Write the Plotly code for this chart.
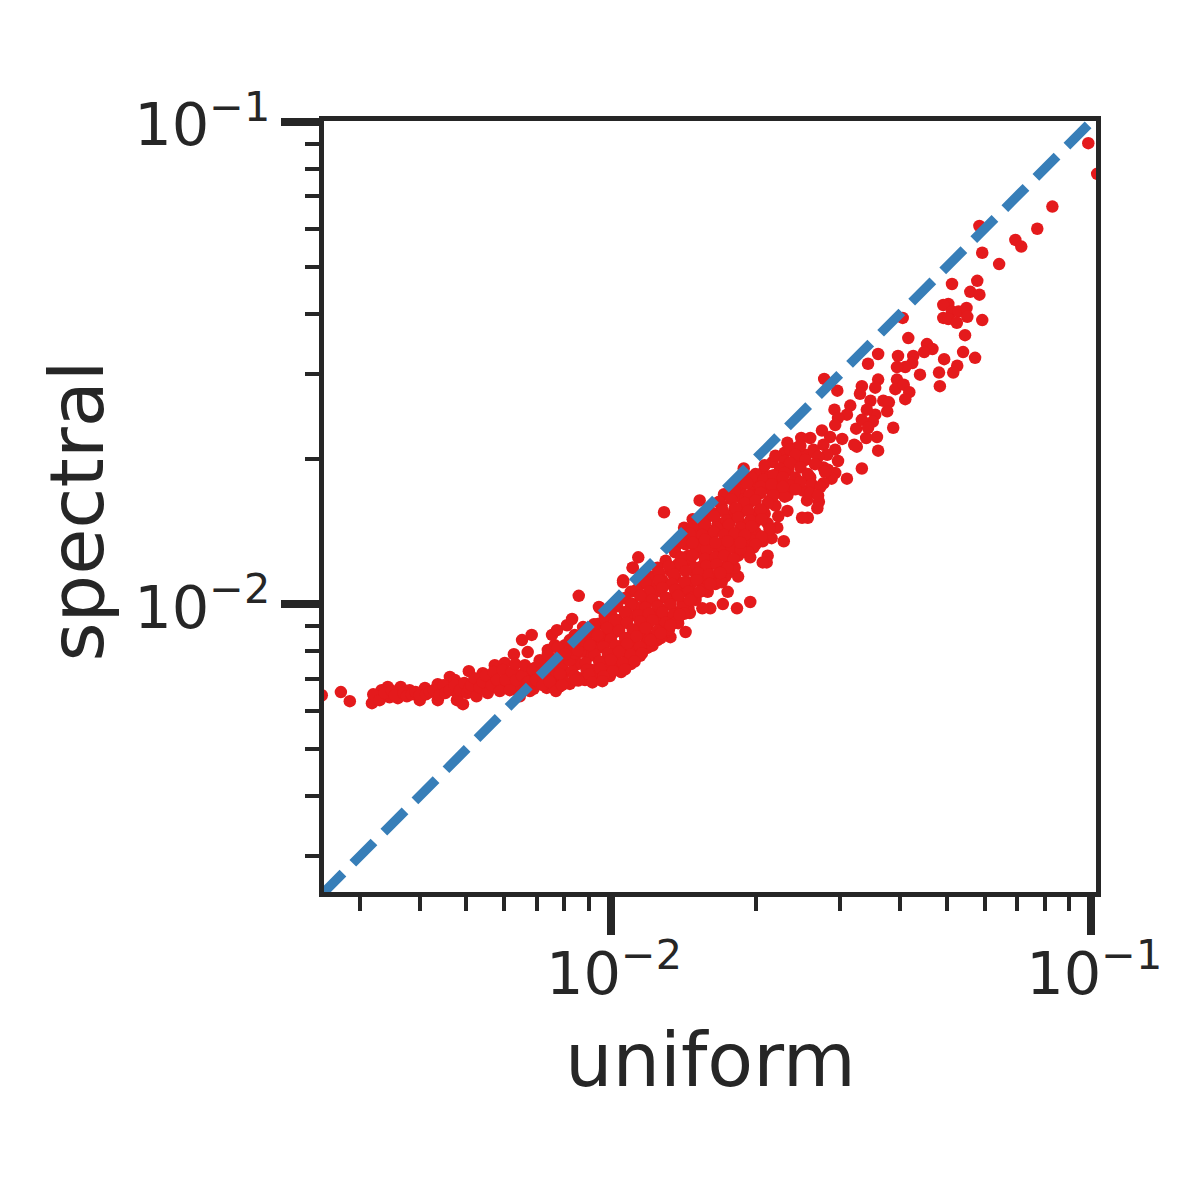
import plotly.graph_objects as go

# isolated points, top right
uniform_upper = [
    0.0986, 0.1029, 0.0830, 0.0772, 0.0695, 0.0715, 0.0585, 0.0593, 0.0643, 0.0513,
    0.0579, 0.0560, 0.0585, 0.0504, 0.0492, 0.0513, 0.0529, 0.0550, 0.0552, 0.0492,
    0.0504, 0.0525, 0.0593, 0.0546, 0.0405, 0.0416, 0.0360, 0.0343, 0.0396, 0.0455,
    0.0467, 0.0449, 0.0426, 0.0424, 0.0410, 0.0394, 0.0440, 0.0394, 0.0391, 0.0407,
    0.0418, 0.0410, 0.0541, 0.0573, 0.0494, 0.0526, 0.0516, 0.0482, 0.0484, 0.0278,
    0.0296, 0.0360, 0.0355, 0.0333, 0.0330, 0.0347, 0.0369, 0.0379, 0.0376, 0.0387,
    0.0360, 0.0358, 0.0340, 0.0325, 0.0321, 0.0324, 0.0355, 0.0351, 0.0341, 0.0333,
    0.0343, 0.0315, 0.0292, 0.0310, 0.0297, 0.0293, 0.0303, 0.0275, 0.0286, 0.0260,
    0.0249, 0.0233, 0.0277, 0.0293, 0.0264, 0.0244, 0.0230, 0.0282, 0.0254,
]
spectral_upper = [
    0.0903, 0.0780, 0.0667, 0.0600, 0.0569, 0.0551, 0.0608, 0.0535, 0.0507, 0.0461,
    0.0468, 0.0444, 0.0438, 0.0419, 0.0417, 0.0404, 0.0404, 0.0411, 0.0394, 0.0392,
    0.0390, 0.0383, 0.0388, 0.0361, 0.0392, 0.0356, 0.0330, 0.0315, 0.0327, 0.0346,
    0.0338, 0.0333, 0.0327, 0.0316, 0.0310, 0.0310, 0.0299, 0.0292, 0.0279, 0.0285,
    0.0275, 0.0266, 0.0333, 0.0324, 0.0322, 0.0312, 0.0302, 0.0302, 0.0283, 0.0293,
    0.0277, 0.0292, 0.0281, 0.0283, 0.0273, 0.0264, 0.0264, 0.0262, 0.0251, 0.0232,
    0.0208, 0.0222, 0.0221, 0.0212, 0.0214, 0.0231, 0.0247, 0.0239, 0.0253, 0.0241,
    0.0232, 0.0258, 0.0253, 0.0247, 0.0243, 0.0235, 0.0220, 0.0229, 0.0222, 0.0221,
    0.0221, 0.0216, 0.0214, 0.0209, 0.0209, 0.0211, 0.0206, 0.0204, 0.0204,
]

# edge of the main band
uniform_edge = [
    0.0333, 0.0310, 0.0297, 0.0293, 0.0277, 0.0288, 0.0277, 0.0271, 0.0269, 0.0257,
    0.0250, 0.0256, 0.0251, 0.0260, 0.0244, 0.0217, 0.0223, 0.0207, 0.0189, 0.0195,
    0.0207, 0.0216, 0.0233, 0.0239, 0.0234, 0.0233, 0.0222, 0.0214, 0.0229, 0.0216,
    0.0207, 0.0198, 0.0212, 0.0211, 0.0207, 0.0195, 0.0184, 0.0175, 0.0175, 0.0171,
    0.0195, 0.0183, 0.0161, 0.0155, 0.0146, 0.0143, 0.0138, 0.0133, 0.0129, 0.0153,
    0.0148, 0.0142, 0.0114, 0.0111, 0.0106, 0.0115, 0.00944, 0.0136,
]
spectral_edge = [
    0.0191, 0.0182, 0.0198, 0.0187, 0.0192, 0.0182, 0.0178, 0.0163, 0.0158, 0.0151,
    0.0151, 0.0164, 0.0172, 0.0183, 0.0199, 0.0197, 0.0183, 0.0187, 0.0191, 0.0182,
    0.0175, 0.0172, 0.0168, 0.0178, 0.0190, 0.0156, 0.0144, 0.0144, 0.0135, 0.0137,
    0.0135, 0.0131, 0.0126, 0.0122, 0.0122, 0.0125, 0.0114, 0.0116, 0.0106, 0.0100,
    0.0101, 0.0098, 0.0098, 0.0098, 0.00958, 0.00875, 0.00913, 0.00854, 0.0155, 0.0164,
    0.0150, 0.0144, 0.0125, 0.0119, 0.0112, 0.0110, 0.00986, 0.0131,
]

# inside of the main band
uniform_band = [
    0.0236, 0.0248, 0.0265,
    0.0220, 0.0230, 0.0242, 0.0254, 0.0270,
    0.0209, 0.0225, 0.0236, 0.0248, 0.0266, 0.0283,
    0.0200, 0.0214, 0.0230, 0.0242, 0.0257, 0.0279,
    0.0190, 0.0202, 0.0220, 0.0236, 0.0248, 0.0262, 0.0273,
    0.0186, 0.0197, 0.0209, 0.0225, 0.0242, 0.0260, 0.0270,
    0.0177, 0.0188, 0.0200, 0.0214, 0.0230,
    0.0170, 0.0181, 0.0193, 0.0204, 0.0220,
    0.0165, 0.0175, 0.0186, 0.0197, 0.0209, 0.0223,
    0.0157, 0.0167, 0.0177, 0.0188, 0.0200, 0.0212,
    0.0150, 0.0159, 0.0169, 0.0179, 0.0190, 0.0200, 0.0214,
    0.0146, 0.0153, 0.0162, 0.0173, 0.0184, 0.0195, 0.0206,
    0.0143, 0.0150, 0.0157, 0.0167, 0.0177, 0.0188, 0.0200,
    0.0136, 0.0145, 0.0153, 0.0162, 0.0173, 0.0184, 0.0193,
    0.0130, 0.0138, 0.0146, 0.0155, 0.0165, 0.0175,
    0.0125, 0.0133, 0.0141, 0.0150, 0.0159, 0.0169, 0.0181,
    0.0121, 0.0128, 0.0136, 0.0145, 0.0153, 0.0162, 0.0173,
    0.0115, 0.0122, 0.0130, 0.0138, 0.0146, 0.0155, 0.0165,
    0.0110, 0.0116, 0.0124, 0.0131, 0.0139, 0.0150, 0.0159,
    0.0104, 0.0111, 0.0118, 0.0125, 0.0133, 0.0141, 0.0150,
    0.01005, 0.0107, 0.0114, 0.0121, 0.0128, 0.0136, 0.0145,
    0.00971, 0.0103, 0.0110, 0.0116, 0.0124, 0.0131, 0.0139,
    0.00939, 0.00995, 0.0105, 0.0112, 0.0119, 0.0127, 0.0134,
    0.00904, 0.00958, 0.0102, 0.0108, 0.0115, 0.0122, 0.0130,
    0.00870, 0.00926, 0.00986, 0.0104, 0.0110, 0.0118, 0.0125,
    0.00829, 0.00883, 0.00939, 0.00995, 0.0105, 0.0112, 0.0119,
    0.00783, 0.00841, 0.00904, 0.00958, 0.0102, 0.0108, 0.0115,
    0.00739, 0.00791, 0.00853, 0.00913, 0.00971, 0.0103, 0.0110,
    0.00694, 0.00746, 0.00802, 0.00862, 0.00926, 0.00995, 0.0105,
    0.00662, 0.00711, 0.00764, 0.00821, 0.00883,
]
spectral_band = [
    0.0209, 0.0213, 0.0206,
    0.0203, 0.0198, 0.0204, 0.0199, 0.0202,
    0.0194, 0.0191, 0.0196, 0.0192, 0.0195, 0.0190,
    0.0186, 0.0184, 0.0187, 0.0183, 0.0186, 0.0188,
    0.0179, 0.0177, 0.0180, 0.0176, 0.0179, 0.0177, 0.0175,
    0.0173, 0.0170, 0.0174, 0.0171, 0.0173, 0.0170, 0.0168,
    0.0167, 0.0165, 0.0168, 0.0164, 0.0167,
    0.0160, 0.0158, 0.0161, 0.0157, 0.0160,
    0.0154, 0.0152, 0.0155, 0.0151, 0.0154, 0.0152,
    0.0149, 0.0147, 0.0149, 0.0146, 0.0148, 0.0147,
    0.0143, 0.0141, 0.0143, 0.0140, 0.0142, 0.0141, 0.0143,
    0.0138, 0.0136, 0.0138, 0.0135, 0.0137, 0.0136, 0.0138,
    0.0133, 0.0131, 0.0133, 0.0130, 0.0132, 0.0131, 0.0133,
    0.0128, 0.0126, 0.0128, 0.0125, 0.0127, 0.0126, 0.0128,
    0.0123, 0.0121, 0.0123, 0.0120, 0.0122, 0.0121,
    0.0119, 0.0117, 0.0119, 0.0116, 0.0118, 0.0117, 0.0119,
    0.0114, 0.0112, 0.0114, 0.0111, 0.0113, 0.0112, 0.0114,
    0.0110, 0.0108, 0.0110, 0.0107, 0.0109, 0.0108, 0.0110,
    0.0106, 0.0104, 0.0106, 0.0103, 0.0105, 0.0104, 0.0106,
    0.0102, 0.0100, 0.0102, 0.00995, 0.0101, 0.0100, 0.0102,
    0.00981, 0.00962, 0.00981, 0.00955, 0.00972, 0.00962, 0.00981,
    0.00945, 0.00927, 0.00945, 0.00920, 0.00936, 0.00927, 0.00945,
    0.00909, 0.00891, 0.00909, 0.00886, 0.00900, 0.00891, 0.00909,
    0.00875, 0.00857, 0.00875, 0.00850, 0.00866, 0.00857, 0.00875,
    0.00842, 0.00826, 0.00842, 0.00818, 0.00834, 0.00826, 0.00842,
    0.00811, 0.00795, 0.00811, 0.00788, 0.00803, 0.00795, 0.00811,
    0.00781, 0.00765, 0.00781, 0.00758, 0.00773, 0.00765, 0.00781,
    0.00751, 0.00737, 0.00751, 0.00730, 0.00744, 0.00737, 0.00751,
    0.00723, 0.00709, 0.00723, 0.00702, 0.00716, 0.00709, 0.00723,
    0.00702, 0.00689, 0.00702, 0.00683, 0.00696,
]

# dense part of the band between the rows above
uniform_fill = [
    0.0150, 0.0158, 0.0170, 0.0178, 0.0186,
    0.0140, 0.0148, 0.0157, 0.0165, 0.0172, 0.0180,
    0.0132, 0.0140, 0.0150, 0.0158, 0.0166, 0.0175,
    0.0126, 0.0135, 0.0143, 0.0152, 0.0160, 0.0168,
    0.0118, 0.0126, 0.0134, 0.0142, 0.0151, 0.0160, 0.0170,
    0.0113, 0.0120, 0.0128, 0.0136, 0.0145, 0.0155,
    0.0107, 0.0115, 0.0122, 0.0130, 0.0138, 0.0147,
    0.0103, 0.0110, 0.0118, 0.0125, 0.0133, 0.0141,
    0.0100, 0.0107, 0.0114, 0.0120, 0.0128, 0.0135, 0.0142,
    0.00965, 0.0102, 0.0108, 0.0115, 0.0122, 0.0130, 0.0137,
    0.00925, 0.00980, 0.0104, 0.0111, 0.0118, 0.0125, 0.0132,
    0.00890, 0.00945, 0.0100, 0.0107, 0.0113, 0.0120, 0.0127,
    0.00850, 0.00905, 0.00965, 0.0102, 0.0108, 0.0115, 0.0122,
    0.00810, 0.00865, 0.00925, 0.00985, 0.0104, 0.0110, 0.0116,
    0.00770, 0.00825, 0.00885, 0.00945, 0.0100, 0.0106, 0.0112,
    0.00715, 0.00770, 0.00830, 0.00890, 0.00950, 0.0101, 0.0107,
    0.00680, 0.00730, 0.00785, 0.00840, 0.00900, 0.00965,
    0.00650, 0.00700, 0.00750, 0.00800, 0.00855, 0.00915, 0.00960,
    0.00600, 0.00640, 0.00690, 0.00735, 0.00780,
    # upper middle of the band
    0.0196, 0.0208, 0.0218, 0.0228,
    0.0183, 0.0192, 0.0205, 0.0216, 0.0228,
    0.0172, 0.0181, 0.0194, 0.0205, 0.0218,
    0.0168, 0.0178, 0.0190, 0.0200, 0.0212,
    0.0160, 0.0171, 0.0182, 0.0193, 0.0205,
    0.0153, 0.0164, 0.0174, 0.0184, 0.0195, 0.0206,
    0.0148, 0.0157, 0.0166, 0.0176, 0.0186, 0.0196,
    0.0146, 0.0155, 0.0164, 0.0172, 0.0181, 0.0190,
    0.0140, 0.0148, 0.0157, 0.0165, 0.0175, 0.0186,
    # where the tail meets the band
    0.00560, 0.00580, 0.00610, 0.00630, 0.00660, 0.00680, 0.00700, 0.00720,
    0.00740, 0.00770, 0.00790, 0.00820, 0.00840, 0.00860, 0.00880,
    0.00711, 0.00739, 0.00764, 0.00783, 0.00802, 0.00821, 0.00841, 0.00853,
    0.00870, 0.00887, 0.00904, 0.00922, 0.00939, 0.00694, 0.00662, 0.00631,
    # lower side of the band
    0.0121, 0.0127, 0.0133, 0.0139, 0.0146, 0.0153, 0.0161, 0.0169,
]
spectral_fill = [
    0.0131, 0.0130, 0.0132, 0.0131, 0.0130,
    0.0125, 0.0126, 0.0124, 0.0125, 0.0126, 0.0124,
    0.0120, 0.0121, 0.0119, 0.0120, 0.0121, 0.0119,
    0.0116, 0.0115, 0.0117, 0.0116, 0.0115, 0.0116,
    0.0111, 0.0112, 0.0110, 0.0111, 0.0112, 0.0110, 0.0111,
    0.0107, 0.0106, 0.0108, 0.0107, 0.0106, 0.0107,
    0.0103, 0.0104, 0.0102, 0.0103, 0.0104, 0.0103,
    0.00990, 0.00998, 0.00982, 0.00990, 0.00998, 0.00985,
    0.00955, 0.00962, 0.00948, 0.00955, 0.00962, 0.00950, 0.00955,
    0.00920, 0.00926, 0.00914, 0.00920, 0.00926, 0.00915, 0.00920,
    0.00885, 0.00892, 0.00880, 0.00885, 0.00892, 0.00880, 0.00885,
    0.00850, 0.00857, 0.00845, 0.00850, 0.00857, 0.00845, 0.00850,
    0.00820, 0.00826, 0.00815, 0.00820, 0.00826, 0.00815, 0.00820,
    0.00790, 0.00796, 0.00785, 0.00790, 0.00796, 0.00785, 0.00790,
    0.00760, 0.00766, 0.00755, 0.00760, 0.00766, 0.00755, 0.00760,
    0.00730, 0.00735, 0.00726, 0.00730, 0.00735, 0.00726, 0.00732,
    0.00710, 0.00714, 0.00706, 0.00710, 0.00714, 0.00708,
    0.00690, 0.00694, 0.00686, 0.00690, 0.00694, 0.00688, 0.00692,
    0.00670, 0.00674, 0.00667, 0.00670, 0.00674,
    # upper middle of the band
    0.0183, 0.0181, 0.0185, 0.0183,
    0.0176, 0.0178, 0.0175, 0.0177, 0.0175,
    0.0169, 0.0171, 0.0168, 0.0170, 0.0168,
    0.0163, 0.0165, 0.0162, 0.0164, 0.0162,
    0.0157, 0.0156, 0.0158, 0.0156, 0.0157,
    0.0150, 0.0152, 0.0149, 0.0151, 0.0149, 0.0150,
    0.0145, 0.0146, 0.0144, 0.0146, 0.0144, 0.0145,
    0.0140, 0.0139, 0.0141, 0.0139, 0.0140, 0.0139,
    0.0135, 0.0134, 0.0136, 0.0134, 0.0135, 0.0134,
    # where the tail meets the band
    0.00695, 0.00670, 0.00700, 0.00680, 0.00715, 0.00730, 0.00700, 0.00745,
    0.00770, 0.00725, 0.00750, 0.00765, 0.00790, 0.00815, 0.00835,
    0.00765, 0.00803, 0.00822, 0.00803, 0.00822, 0.00803, 0.00863, 0.00803,
    0.00842, 0.00875, 0.00822, 0.00908, 0.00862, 0.00737, 0.00723, 0.00716,
    # lower side of the band
    0.00842, 0.00870, 0.00904, 0.00950, 0.0102, 0.0106, 0.0110, 0.0116,
]

# flat tail at low uniform values
uniform_tail = [
    0.00250, 0.00274, 0.00286, 0.00318, 0.00322, 0.00333, 0.00343, 0.00346, 0.00360, 0.00365,
    0.00381, 0.00400, 0.00410, 0.00436, 0.00436, 0.00462, 0.00473, 0.00478, 0.00492, 0.00506,
    0.00541, 0.00573, 0.00601, 0.00628, 0.00653, 0.00684, 0.00671, 0.00754, 0.00772, 0.00810,
    0.00830, 0.00857, 0.00875, 0.00949, 0.01060, 0.01110,
    0.00320, 0.00330, 0.00338, 0.00350, 0.00355, 0.00370, 0.00376, 0.00385, 0.00392, 0.00400,
    0.00412, 0.00420, 0.00428, 0.00440, 0.00448, 0.00452, 0.00462, 0.00473, 0.00480, 0.00485,
    0.00495, 0.00502, 0.00508, 0.00512, 0.00520, 0.00525, 0.00533, 0.00541, 0.00549, 0.00554,
    0.00565, 0.00570, 0.00579, 0.00587, 0.00595, 0.00604, 0.00616, 0.00622, 0.00632, 0.00635,
    0.00646, 0.00653, 0.00662, 0.00671, 0.00678, 0.00688, 0.00698, 0.00711, 0.00721, 0.00728,
    0.00739, 0.00746, 0.00757, 0.00768, 0.00775, 0.00783, 0.00791, 0.00802, 0.00821, 0.00845,
]
spectral_tail = [
    0.00647, 0.00657, 0.00629, 0.00623, 0.00638, 0.00663, 0.00673, 0.00641, 0.00638, 0.00673,
    0.00663, 0.00632, 0.00670, 0.00682, 0.00632, 0.00706, 0.00696, 0.00632, 0.00620, 0.00726,
    0.00719, 0.00747, 0.00755, 0.00787, 0.00842, 0.00863, 0.00795, 0.00863, 0.00883, 0.00904,
    0.00931, 0.01040, 0.00896, 0.00981, 0.01110, 0.01190,
    0.00650, 0.00632, 0.00654, 0.00660, 0.00647, 0.00654, 0.00644, 0.00650, 0.00657, 0.00647,
    0.00650, 0.00657, 0.00663, 0.00647, 0.00679, 0.00654, 0.00663, 0.00679, 0.00647, 0.00663,
    0.00686, 0.00654, 0.00669, 0.00679, 0.00702, 0.00644, 0.00672, 0.00689, 0.00712, 0.00654,
    0.00679, 0.00723, 0.00696, 0.00660, 0.00730, 0.00696, 0.00663, 0.00723, 0.00751, 0.00696,
    0.00644, 0.00709, 0.00747, 0.00689, 0.00660, 0.00730, 0.00696, 0.00758, 0.00679, 0.00723,
    0.00787, 0.00689, 0.00751, 0.00660, 0.00812, 0.00716, 0.00679, 0.00787, 0.00842, 0.00696,
]

uniform = uniform_upper + uniform_edge + uniform_band + uniform_fill + uniform_tail
spectral = spectral_upper + spectral_edge + spectral_band + spectral_fill + spectral_tail

identity = [0.0025, 0.102]

major_ticks = [0.01, 0.1]
major_labels = ["10<sup>−2</sup>", "10<sup>−1</sup>"]
minor_ticks = [0.003, 0.004, 0.005, 0.006, 0.007, 0.008, 0.009,
               0.02, 0.03, 0.04, 0.05, 0.06, 0.07, 0.08, 0.09]

INK = "#262626"

fig = go.Figure()
fig.add_trace(go.Scatter(
    x=uniform, y=spectral, mode="markers",
    marker=dict(color="#e41a1c", size=12.5, line=dict(width=0)),
))
fig.add_trace(go.Scatter(
    x=identity, y=identity, mode="lines",
    line=dict(color="#377eb8", width=9.5, dash="30px,14px"),
))

axis_style = dict(
    type="log",
    showgrid=False, zeroline=False,
    showline=True, linecolor=INK, linewidth=5, mirror=True,
    ticks="outside", ticklen=38, tickwidth=8, tickcolor=INK,
    tickmode="array", tickvals=major_ticks, ticktext=major_labels,
    tickfont=dict(family="DejaVu Sans", size=59, color=INK),
    minor=dict(ticks="outside", ticklen=14, tickwidth=4, tickcolor=INK,
               tickmode="array", tickvals=minor_ticks, showgrid=False),
)

title_font = dict(family="DejaVu Sans", size=75, color=INK)

# the page has an 8px body margin, so margins are 8px smaller on the left/top
fig.update_layout(
    width=1184, height=1184,
    margin=dict(l=316, r=96, t=113, b=300),
    paper_bgcolor="white", plot_bgcolor="white",
    showlegend=False,
    xaxis=dict(axis_style, range=[-2.5974, -0.9901],
               ticklabelstandoff=-12, ticklabelshift=3),
    yaxis=dict(axis_style, range=[-2.597, -0.9984],
               ticklabelstandoff=-1, ticklabelshift=3),
    annotations=[
        dict(text="uniform", showarrow=False, font=title_font,
             xref="paper", yref="paper", x=0.5, y=0, xanchor="center", yanchor="middle",
             yshift=-168),
        dict(text="spectral", textangle=-90, showarrow=False, font=title_font,
             xref="paper", yref="paper", x=0, y=0.5, xanchor="center", yanchor="middle",
             xshift=-248, yshift=-5),
    ],
)

fig.write_html("out.html")
